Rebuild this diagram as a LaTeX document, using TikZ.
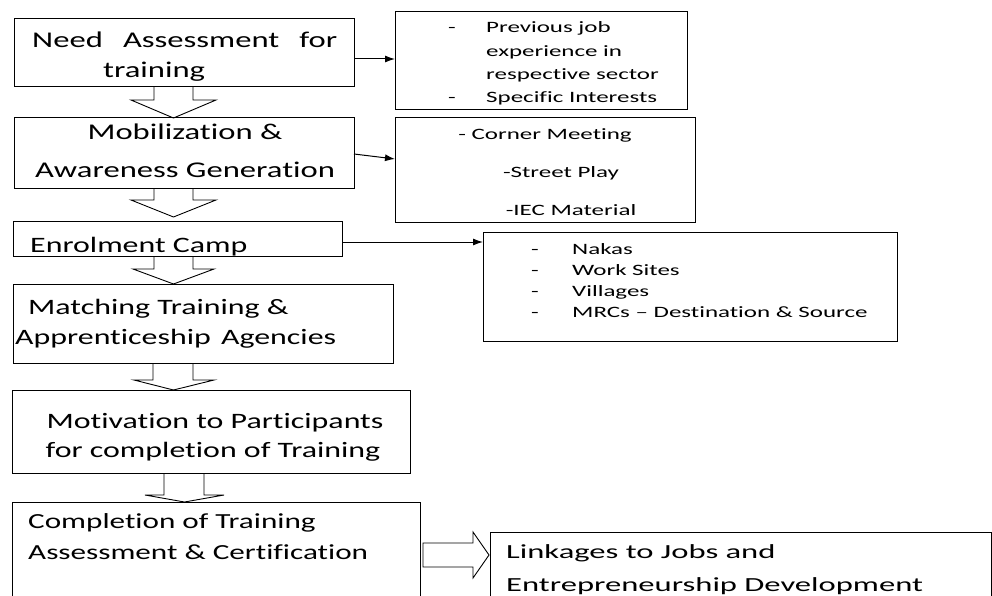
\documentclass[tikz,border=0pt]{standalone}
\usepackage{fontspec}
\newfontfamily\mainfam[FakeStretch=1.45,Ligatures={NoCommon,NoRare,NoDiscretionary}]{Carlito}
\newfontfamily\linkfam[FakeStretch=1.63,Ligatures={NoCommon,NoRare,NoDiscretionary}]{Carlito}
\newfontfamily\smallfam[FakeStretch=1.58,Ligatures={NoCommon,NoRare,NoDiscretionary}]{Carlito}
\newcommand\fmBig{\mainfam\fontsize{22.5}{27}\selectfont}
\newcommand\fmMid{\mainfam\fontsize{22}{26}\selectfont}
\newcommand\fmSix{\mainfam\fontsize{21.5}{26}\selectfont}
\newcommand\fmLink{\linkfam\fontsize{20}{24}\selectfont}
\newcommand\fmSmall{\smallfam\fontsize{15.8}{19}\selectfont}
\usetikzlibrary{arrows.meta}
\begin{document}
\begin{tikzpicture}[x=1pt,y=-1pt,
  box/.style={draw=black, line width=1pt, inner sep=0pt, outer sep=0pt, anchor=north west},
  txt/.style={anchor=base west, inner sep=0pt},
  ctxt/.style={anchor=base, inner sep=0pt},
  blk/.style={draw=black, line width=0.9pt, line join=miter},
  conn/.style={line width=1pt, -{Latex[length=10pt,width=7pt]}}]
\path[use as bounding box] (0,0) rectangle (992,596);
\clip (0,0) rectangle (992,596);
% boxes
\node[box, minimum width=340pt, minimum height=68pt] (b1) at (14,19) {};
\node[box, minimum width=292pt, minimum height=98pt] (r1) at (395,12) {};
\node[box, minimum width=340pt, minimum height=70pt] (b2) at (14,118) {};
\node[box, minimum width=300pt, minimum height=104pt] (r2) at (395,118) {};
\node[box, minimum width=329pt, minimum height=35pt] (b3) at (13,221) {};
\node[box, minimum width=414pt, minimum height=109pt] (r3) at (483,232) {};
\node[box, minimum width=380pt, minimum height=79pt] (b4) at (13,284) {};
\node[box, minimum width=398pt, minimum height=83pt] (b5) at (12,390) {};
\node[box, minimum width=408pt, minimum height=120pt] (b6) at (12,502) {};
\node[box, minimum width=501pt, minimum height=90pt] (b7) at (490,532) {};
% block arrows down
\draw[blk] (154,87) -- (154,100) -- (131,100) -- (173.5,118) -- (216,100) -- (193,100) -- (193,87);
\draw[blk] (154,188) -- (154,200) -- (131,200) -- (173.5,217) -- (216,200) -- (193,200) -- (193,188);
\draw[blk] (154,256) -- (154,269) -- (133,269) -- (173.5,284) -- (214,269) -- (193,269) -- (193,256);
\draw[blk] (153,363) -- (153,380) -- (134,380) -- (173.5,390) -- (214,380) -- (193,380) -- (193,363);
\draw[blk] (164,473) -- (164,495) -- (145,495) -- (184.5,502) -- (224,495) -- (204,495) -- (204,473);
% block arrow right
\draw[blk] (423,543) -- (473,543) -- (473,532) -- (489,555) -- (473,578) -- (473,567) -- (423,567) -- cycle;
% thin connectors
\coordinate (y1) at (0,59);
\coordinate (y2a) at (0,154);
\coordinate (y2b) at (0,159);
\coordinate (y3) at (0,242);
\draw[conn] (b1.east |- y1) -- (r1.west |- y1);
\draw[conn] (b2.east |- y2a) -- (r2.west |- y2b);
\draw[conn] (b3.east |- y3) -- (r3.west |- y3);
% main texts
\node[txt, font=\fmBig] (t1a) at (32,48) {\hbox to 305pt{Need\hfill Assessment\hfill for}};
\node[txt, font=\fmBig] (t1b) at (103,78) {training};
\node[ctxt, font=\fmBig] (t2a) at (185,140) {Mobilization \&};
\node[ctxt, font=\fmBig] (t2b) at (185,178) {Awareness Generation};
\node[txt, font=\fmMid] (t3) at (30,252) {Enrolment Camp};
\node[txt, font=\fmMid] (t4a) at (28,314) {Matching Training \&};
\node[txt, font=\fmMid] (t4b) at (15,344) {Apprenticeship\hspace{3pt} Agencies};
\node[ctxt, font=\fmMid] (t5a) at (215,428) {Motivation to Participants};
\node[ctxt, font=\fmMid] (t5b) at (213,457) {for completion of Training};
\node[txt, font=\fmSix] (t6a) at (28,528) {Completion of Training};
\node[txt, font=\fmSix] (t6b) at (28,559) {Assessment \& Certification};
\node[txt, font=\fmLink] (t7a) at (506,558) {Linkages to Jobs and};
\node[txt, font=\fmLink] (t7b) at (506,591) {Entrepreneurship Development};
% right box 1
\node[ctxt, font=\fmSmall] (d1a) at (452,33) {-};
\node[txt, font=\fmSmall] (s1a) at (486,33) {Previous job};
\node[txt, font=\fmSmall] (s1b) at (486,57) {experience in};
\node[txt, font=\fmSmall] (s1c) at (486,80) {respective sector};
\node[ctxt, font=\fmSmall] (d1d) at (452,103) {-};
\node[txt, font=\fmSmall] (s1d) at (486,103) {Specific Interests};
% right box 2
\node[ctxt, font=\fmSmall] (s2a) at (545,140) {- Corner Meeting};
\node[ctxt, font=\fmSmall] (s2b) at (561,178) {-Street Play};
\node[ctxt, font=\fmSmall] (s2c) at (571,215) {-IEC Material};
% right box 3
\node[ctxt, font=\fmSmall] (d3a) at (535,254) {-};
\node[txt, font=\fmSmall] (s3a) at (572,254) {Nakas};
\node[ctxt, font=\fmSmall] (d3b) at (535,275) {-};
\node[txt, font=\fmSmall] (s3b) at (572,275) {Work Sites};
\node[ctxt, font=\fmSmall] (d3c) at (535,296) {-};
\node[txt, font=\fmSmall] (s3c) at (572,296) {Villages};
\node[ctxt, font=\fmSmall] (d3d) at (535,317) {-};
\node[txt, font=\fmSmall] (s3d) at (572,317) {MRCs – Destination \& Source};
\end{tikzpicture}
\end{document}
